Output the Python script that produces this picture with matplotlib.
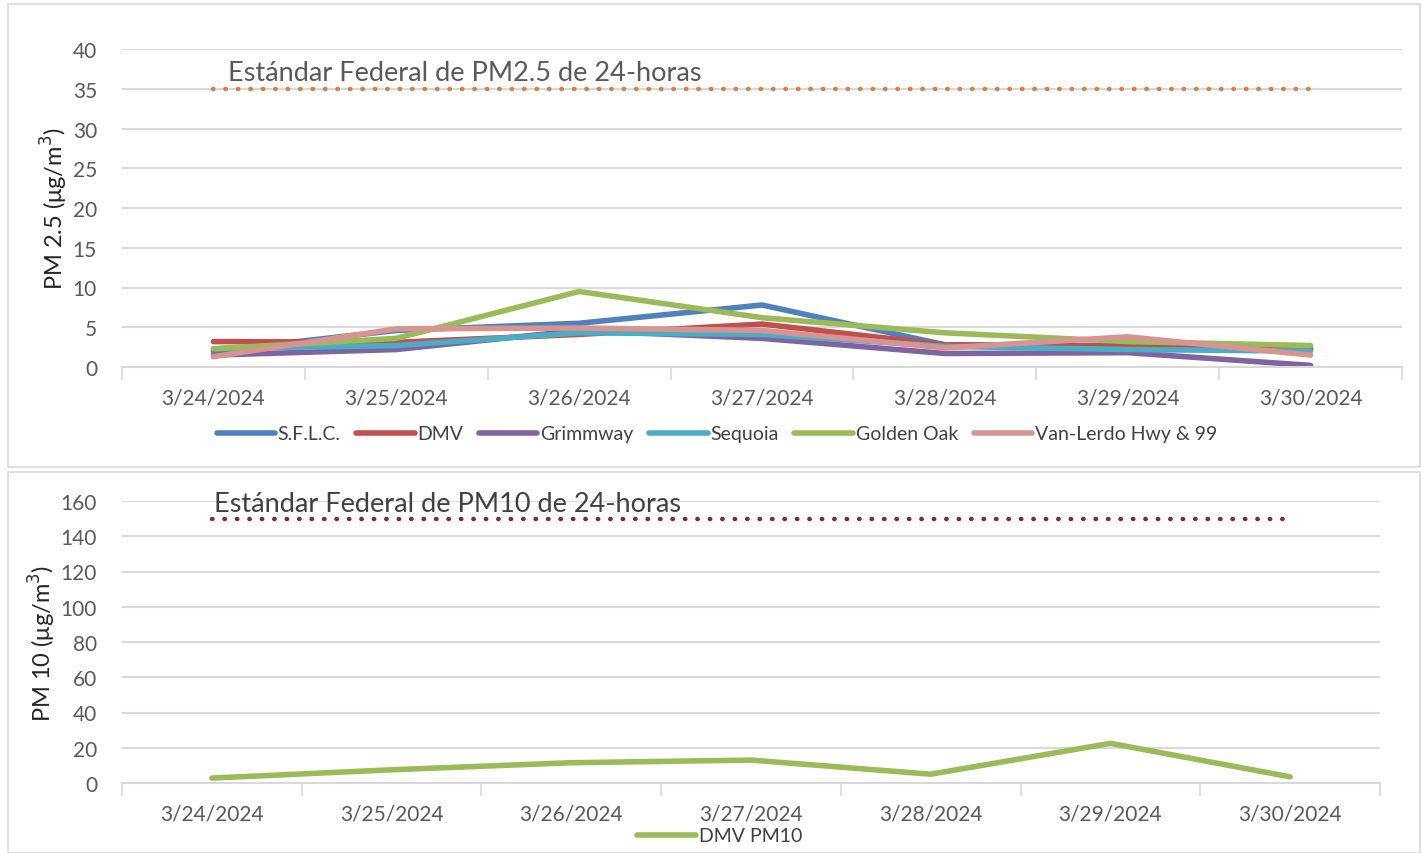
import matplotlib
matplotlib.use("Agg")
import matplotlib.pyplot as plt
from matplotlib.patches import Rectangle

plt.rcParams['font.family'] = ['Lato', 'DejaVu Sans']

# ── data ─────────────────────────────────────────────────────────────────────
dates = ["3/24/2024", "3/25/2024", "3/26/2024", "3/27/2024",
         "3/28/2024", "3/29/2024", "3/30/2024"]

sflc      = [2.0, 4.6, 5.5, 7.8, 2.8, 2.7, 2.2]
dmv       = [3.2, 3.1, 4.1, 5.4, 2.8, 2.6, 2.3]
grimmway  = [1.5, 2.2, 4.6, 3.6, 1.7, 1.8, 0.2]
sequoia   = [2.3, 2.7, 4.3, 4.1, 2.6, 2.2, 2.0]
golden    = [2.3, 3.6, 9.5, 6.2, 4.3, 3.2, 2.7]
vanlerdo  = [1.3, 4.8, 4.9, 4.6, 2.4, 3.8, 1.5]

pm10_dmv  = [2.8, 7.5, 11.5, 13.0, 5.0, 22.5, 3.5]

pm25_std = 35
pm10_std = 150

series = [("S.F.L.C.", sflc, "#4F81BD"),
          ("DMV", dmv, "#C0504D"),
          ("Grimmway", grimmway, "#8064A2"),
          ("Sequoia", sequoia, "#4BACC6"),
          ("Golden Oak", golden, "#9BBB59"),
          ("Van-Lerdo Hwy & 99", vanlerdo, "#D79490")]

TXT = "#595959"
GRID = "#D9D9D9"

fig = plt.figure(figsize=(14.25, 8.54), dpi=100)

# panel frames
for (y0, h) in [(1 - 468/854, 463/854), (0.0, 381/854)]:
    fig.patches.append(Rectangle((8/1425, y0), 1412/1425, h, transform=fig.transFigure,
                                 fill=False, edgecolor=GRID, lw=1.2))


def style_axis(ax, ymax, ystep):
    x = range(len(dates))
    ax.set_xlim(-0.5, len(dates) - 0.5)
    ax.set_ylim(0, ymax)
    ax.set_yticks(range(0, ymax + 1, ystep))
    ax.set_xticks(list(x))
    ax.set_xticklabels(dates)
    ax.set_xticks([i - 0.5 for i in range(len(dates) + 1)], minor=True)
    ax.tick_params(axis='x', which='major', length=0, pad=15, labelsize=15, labelcolor=TXT)
    ax.tick_params(axis='x', which='minor', length=9, width=1.2, color=GRID)
    ax.tick_params(axis='y', length=0, pad=18, labelsize=15, labelcolor=TXT)
    for s in ["top", "right", "left"]:
        ax.spines[s].set_visible(False)
    ax.spines["bottom"].set_color(GRID)
    ax.spines["bottom"].set_linewidth(1.5)
    ax.grid(axis='y', color=GRID, lw=1.5)
    ax.set_axisbelow(True)


# ── PM 2.5 ───────────────────────────────────────────────────────────────────
ax1 = fig.add_axes([122/1425, 1 - 368/854, 1280/1425, 318/854])
style_axis(ax1, 40, 5)
x = list(range(len(dates)))
ax1.plot([x[0], x[-1]], [pm25_std] * 2, color="#E07B39", lw=3.2,
         linestyle=(0, (0.1, 2.7)), dash_capstyle='round')
ax1.text(0.08, 37.1, "Estándar Federal de PM2.5 de 24-horas", fontsize=19.5,
         color=TXT, va='center', ha='left')
handles = []
for name, vals, col in series:
    h, = ax1.plot(x, vals, color=col, lw=4, solid_capstyle='round',
                  solid_joinstyle='round', label=name)
    handles.append(h)
ax1.set_ylabel("PM 2.5 (μg/m$^3$)", fontsize=17, color="#262626", labelpad=2)
fig.legend(handles=handles, loc='center', bbox_to_anchor=(0.503, 1 - 435/854),
           ncol=6, frameon=False, fontsize=14, handlelength=3.0,
           handletextpad=0.15, columnspacing=0.8, labelcolor="#404040")

# ── PM 10 ────────────────────────────────────────────────────────────────────
ax2 = fig.add_axes([122/1425, 1 - 784/854, 1258/1425, 282/854])
style_axis(ax2, 160, 20)
ax2.plot([x[0], x[-1]], [pm10_std] * 2, color="#7B2C2C", lw=3.2,
         linestyle=(0, (0.1, 2.7)), dash_capstyle='round')
ax2.text(0.01, 158.5, "Estándar Federal de PM10 de 24-horas", fontsize=19.5,
         color="#404040", va='center', ha='left')
h10, = ax2.plot(x, pm10_dmv, color="#9BBB59", lw=4, solid_capstyle='round',
                solid_joinstyle='round', label="DMV PM10")
ax2.set_ylabel("PM 10 (μg/m$^3$)", fontsize=17, color="#262626", labelpad=2)
fig.legend(handles=[h10], loc='center', bbox_to_anchor=(0.505, 1 - 837/854),
           frameon=False, fontsize=14, handlelength=3.0, handletextpad=0.15,
           labelcolor="#404040")

fig.savefig("out.png", dpi=100)
